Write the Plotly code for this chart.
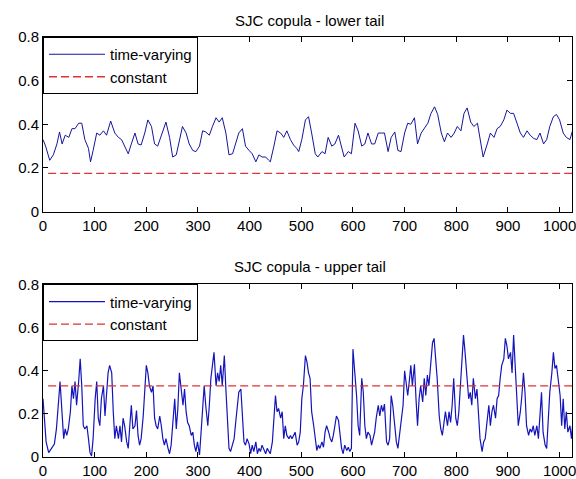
import plotly.graph_objects as go

# ---------------- data ----------------
lower_x = [0, 5, 13, 20, 27, 32, 37, 43, 50, 56, 62, 69, 75, 81, 88, 92, 97, 104, 110, 117,
           123, 131, 139, 146, 152, 158, 165, 171, 178, 184, 190, 197, 203, 210, 216, 222, 232, 238, 245, 251,
           258, 264, 270, 277, 283, 290, 296, 303, 309, 315, 322, 328, 335, 341, 347, 354, 360, 367, 373, 379,
           386, 392, 399, 405, 412, 418, 424, 431, 437, 440, 447, 453, 460, 466, 472, 479, 485, 491,
           495, 501, 508, 514, 520, 527, 532, 540, 546, 552, 559, 565, 572, 577, 583, 591, 597, 604, 610, 617,
           623, 629, 636, 642, 649, 655, 661, 668, 674, 681, 687, 693, 700, 706, 712, 719, 725, 732, 738, 745,
           751, 758, 764, 771, 777, 783, 790, 796, 802, 809, 815, 821, 828, 834, 841, 847, 852, 860, 866, 873,
           879, 885, 892, 898, 905, 911, 917, 924, 930, 937, 943, 950, 956, 962, 969, 975, 981, 988, 994, 1000,
           1007, 1013, 1020, 1025]
lower_tv = [0.33, 0.30, 0.235, 0.26, 0.31, 0.365, 0.31, 0.35, 0.34, 0.38, 0.38, 0.405, 0.405, 0.33, 0.29, 0.228, 0.28, 0.36, 0.35, 0.37,
            0.35, 0.415, 0.36, 0.34, 0.33, 0.30, 0.265, 0.31, 0.36, 0.31, 0.305, 0.36, 0.42, 0.39, 0.31, 0.30, 0.365, 0.41, 0.34, 0.25,
            0.26, 0.33, 0.39, 0.36, 0.31, 0.28, 0.275, 0.30, 0.37, 0.365, 0.35, 0.39, 0.43, 0.41, 0.43, 0.36, 0.26, 0.265, 0.31, 0.36,
            0.38, 0.30, 0.28, 0.265, 0.228, 0.26, 0.25, 0.25, 0.235, 0.228, 0.30, 0.37, 0.36, 0.34, 0.37, 0.33, 0.305, 0.29,
            0.275, 0.33, 0.42, 0.435, 0.36, 0.265, 0.25, 0.275, 0.265, 0.34, 0.30, 0.31, 0.35, 0.30, 0.25, 0.275, 0.265, 0.405, 0.37, 0.30,
            0.31, 0.36, 0.31, 0.31, 0.36, 0.36, 0.36, 0.275, 0.34, 0.365, 0.28, 0.275, 0.36, 0.405, 0.40, 0.43, 0.31, 0.36, 0.38, 0.405,
            0.45, 0.48, 0.445, 0.36, 0.32, 0.36, 0.34, 0.36, 0.39, 0.37, 0.45, 0.475, 0.41, 0.39, 0.405, 0.31, 0.25, 0.31, 0.36, 0.34,
            0.38, 0.39, 0.42, 0.465, 0.45, 0.45, 0.405, 0.36, 0.34, 0.37, 0.35, 0.335, 0.33, 0.36, 0.31, 0.33, 0.39, 0.435, 0.445, 0.42,
            0.36, 0.34, 0.33, 0.37]
lower_const = 0.175

upper_x = [0, 3, 6, 11, 17, 22, 26, 28, 31, 33, 37, 40, 43, 46, 49, 53, 56, 59, 62, 65,
           69, 72, 75, 78, 81, 85, 88, 91, 94, 97, 101, 104, 107, 110, 113, 117, 120, 123, 126, 129,
           133, 136, 139, 142, 146, 149, 152, 155, 158, 162, 165, 168, 171, 174, 178, 181, 184, 187, 190, 194,
           197, 200, 203, 206, 210, 213, 216, 219, 222, 226, 229, 232, 235, 238, 242, 245, 248, 251, 255, 258,
           261, 264, 267, 271, 274, 277, 280, 283, 287, 290, 293, 296, 299, 303, 306, 309, 312, 315, 319, 322,
           325, 328, 331, 335, 338, 341, 344, 347, 351, 354, 357, 360, 363, 367, 370, 373, 376, 379, 383, 386,
           389, 392, 395, 399, 402, 405, 408, 412, 415, 418, 421, 424, 428, 431, 434, 437, 440, 444, 447, 450,
           453,
           456, 460, 463, 466, 469, 472, 476, 479, 482, 485, 488, 492, 495, 498, 501, 504, 508, 511, 514, 517,
           520, 524, 527, 530, 533, 536, 540, 543, 546, 549, 553, 556, 559, 562, 565, 568, 572, 575, 578, 581,
           584, 588, 591, 594, 597, 600, 604, 607, 610, 613, 617, 620, 623, 626, 629, 633, 636, 639, 642, 645,
           649, 652, 655, 658, 661, 665, 668, 671, 674, 677, 681, 684, 687, 690, 693, 697, 700, 703, 706, 709,
           712, 715, 719, 722, 725, 728, 731, 735, 738, 741, 744, 747, 751, 754, 757, 760, 763, 767, 770, 773,
           776, 779, 783, 786, 789, 792, 795, 799, 802, 805, 808, 811, 814, 817, 821, 824, 827, 830, 833, 837,
           840, 843, 846, 850, 853, 856, 860, 863, 866, 869, 872, 876, 879, 882, 885, 888, 892, 895, 898, 901,
           905, 908, 911, 914, 917, 920, 924, 927, 930, 933, 936, 940, 943, 946, 949, 952, 956, 959, 962, 965,
           968, 972, 975, 978, 981, 985, 988, 991, 994, 997, 1001, 1004, 1007, 1010, 1013, 1016, 1020, 1023, 1025]
upper_tv = [0.27, 0.15, 0.07, 0.02, 0.04, 0.06, 0.13, 0.21, 0.285, 0.35, 0.18, 0.085, 0.13, 0.10, 0.13, 0.21, 0.33, 0.27, 0.35, 0.24,
            0.35, 0.455, 0.33, 0.145, 0.13, 0.145, 0.085, 0.02, 0.005, 0.085, 0.27, 0.35, 0.18, 0.145, 0.27, 0.33, 0.19, 0.30, 0.39, 0.425,
            0.39, 0.21, 0.085, 0.145, 0.085, 0.145, 0.07, 0.18, 0.145, 0.07, 0.04, 0.145, 0.24, 0.13, 0.145, 0.215, 0.10, 0.055, 0.085, 0.19,
            0.285, 0.425, 0.39, 0.33, 0.30, 0.33, 0.18, 0.145, 0.13, 0.19, 0.145, 0.085, 0.055, 0.085, 0.04, 0.015, 0.055, 0.145, 0.27, 0.13,
            0.225, 0.39, 0.315, 0.24, 0.315, 0.21, 0.16, 0.145, 0.10, 0.115, 0.055, 0.025, 0.07, 0.01, 0.115, 0.21, 0.33, 0.24, 0.145, 0.24,
            0.365, 0.425, 0.485, 0.33, 0.39, 0.35, 0.425, 0.33, 0.47, 0.315, 0.145, 0.04, 0.025, 0.055, 0.085, 0.16, 0.24, 0.30, 0.315, 0.19,
            0.07, 0.055, 0.085, 0.06, 0.015, 0.055, 0.025, 0.07, 0.015, 0.04, 0.025, 0.055, 0.03, 0.015, 0.04, 0.025, 0.015, 0.07, 0.19, 0.285,
            0.21,
            0.225, 0.18, 0.21, 0.085, 0.145, 0.10, 0.085, 0.10, 0.085, 0.10, 0.115, 0.055, 0.07, 0.115, 0.27, 0.33, 0.47, 0.44, 0.39, 0.365,
            0.21, 0.145, 0.07, 0.03, 0.055, 0.04, 0.07, 0.045, 0.115, 0.145, 0.115, 0.085, 0.07, 0.10, 0.145, 0.19, 0.17, 0.085, 0.04, 0.015,
            0.055, 0.03, 0.045, 0.025, 0.04, 0.50, 0.38, 0.285, 0.145, 0.10, 0.365, 0.30, 0.145, 0.085, 0.115, 0.10, 0.055, 0.085, 0.115, 0.18,
            0.24, 0.19, 0.24, 0.21, 0.245, 0.07, 0.055, 0.085, 0.285, 0.24, 0.145, 0.07, 0.04, 0.10, 0.16, 0.24, 0.40, 0.33, 0.285, 0.35,
            0.425, 0.33, 0.43, 0.27, 0.145, 0.27, 0.33, 0.255, 0.365, 0.285, 0.38, 0.33, 0.425, 0.53, 0.55, 0.47, 0.365, 0.19, 0.13, 0.10,
            0.145, 0.21, 0.145, 0.21, 0.16, 0.24, 0.365, 0.18, 0.145, 0.21, 0.33, 0.455, 0.565, 0.485, 0.33, 0.27, 0.30, 0.24, 0.365, 0.27,
            0.315, 0.18, 0.085, 0.025, 0.07, 0.085, 0.18, 0.24, 0.145, 0.21, 0.24, 0.18, 0.27, 0.285, 0.365, 0.425, 0.455, 0.55, 0.515, 0.455,
            0.485, 0.39, 0.565, 0.39, 0.285, 0.145, 0.21, 0.285, 0.39, 0.30, 0.145, 0.10, 0.13, 0.115, 0.145, 0.10, 0.145, 0.085, 0.21, 0.30,
            0.115, 0.055, 0.04, 0.18, 0.30, 0.39, 0.485, 0.41, 0.425, 0.365, 0.285, 0.145, 0.27, 0.13, 0.21, 0.115, 0.145, 0.085, 0.145]
upper_const = 0.33

const_x = [10, 1030]
x_ticks = [0, 100, 200, 300, 400, 500, 600, 700, 800, 900, 1000]
y_ticks = [0, 0.2, 0.4, 0.6, 0.8]
y_ticktext = ["0", "0.2", "0.4", "0.6", "0.8"]
titles = ["SJC copula - lower tail", "SJC copula - upper tail"]

assert len(lower_x) == len(lower_tv)
assert len(upper_x) == len(upper_tv)

# ---------------- figure ----------------
FONT = "Liberation Sans, Arial, Helvetica, sans-serif"
FS = 15
TV_COLOR_LO = "#15159a"
TV_COLOR_UP = "#1414bb"
C_COLOR = "#dc3535"

fig = go.Figure()
fig.add_trace(go.Scatter(x=lower_x, y=lower_tv, mode="lines", name="time-varying", legendgroup="a",
                         line=dict(color=TV_COLOR_LO, width=1), xaxis="x", yaxis="y", legend="legend"))
fig.add_trace(go.Scatter(x=const_x, y=[lower_const] * len(const_x), mode="lines", name="constant", legendgroup="b",
                         line=dict(color=C_COLOR, width=1.3, dash="8px,4px"), xaxis="x", yaxis="y", legend="legend"))
fig.add_trace(go.Scatter(x=upper_x, y=upper_tv, mode="lines", name="time-varying", legendgroup="c",
                         line=dict(color=TV_COLOR_UP, width=1.2), xaxis="x2", yaxis="y2", legend="legend2"))
fig.add_trace(go.Scatter(x=const_x, y=[upper_const] * len(const_x), mode="lines", name="constant", legendgroup="d",
                         line=dict(color=C_COLOR, width=1.3, dash="8px,4px"), xaxis="x2", yaxis="y2", legend="legend2"))

axis_common = dict(showline=True, linecolor="black", linewidth=1, mirror="ticks", ticks="inside",
                   ticklen=5, tickcolor="black", showgrid=False, zeroline=False,
                   ticklabeloverflow="allow",
                   tickfont=dict(family=FONT, size=FS, color="black"))

top_dom = [0.5843, 1.0]
bot_dom = [0.0, 0.4109]

legend_common = dict(x=0, xanchor="left", yanchor="top", bgcolor="white",
                     bordercolor="black", borderwidth=1, font=dict(family=FONT, size=FS, color="black"),
                     itemwidth=56, tracegroupgap=0)

fig.update_layout(
    width=576, height=479,
    margin=dict(l=43, r=0, t=37, b=21),
    paper_bgcolor="white", plot_bgcolor="white",
    font=dict(family=FONT, size=FS, color="black"),
    xaxis=dict(domain=[0, 1], anchor="y", range=[0, 1024], tickvals=x_ticks, **axis_common),
    yaxis=dict(domain=top_dom, anchor="x", range=[0, 0.8], tickvals=y_ticks, ticktext=y_ticktext, **axis_common),
    xaxis2=dict(domain=[0, 1], anchor="y2", range=[0, 1024], tickvals=x_ticks, **axis_common),
    yaxis2=dict(domain=bot_dom, anchor="x2", range=[0, 0.8], tickvals=y_ticks, ticktext=y_ticktext, **axis_common),
    legend=dict(y=top_dom[1], **legend_common),
    legend2=dict(y=bot_dom[1], **legend_common),
    annotations=[
        dict(text=titles[0], x=0.504, y=1.040, xref="paper", yref="paper", showarrow=False,
             xanchor="center", yanchor="middle", font=dict(family=FONT, size=FS, color="black")),
        dict(text=titles[1], x=0.504, y=0.4537, xref="paper", yref="paper", showarrow=False,
             xanchor="center", yanchor="middle", font=dict(family=FONT, size=FS, color="black")),
    ],
)

fig.write_html("out.html", config={"displayModeBar": False},
               post_script="document.body.style.margin='0';document.body.style.overflow='hidden';")
